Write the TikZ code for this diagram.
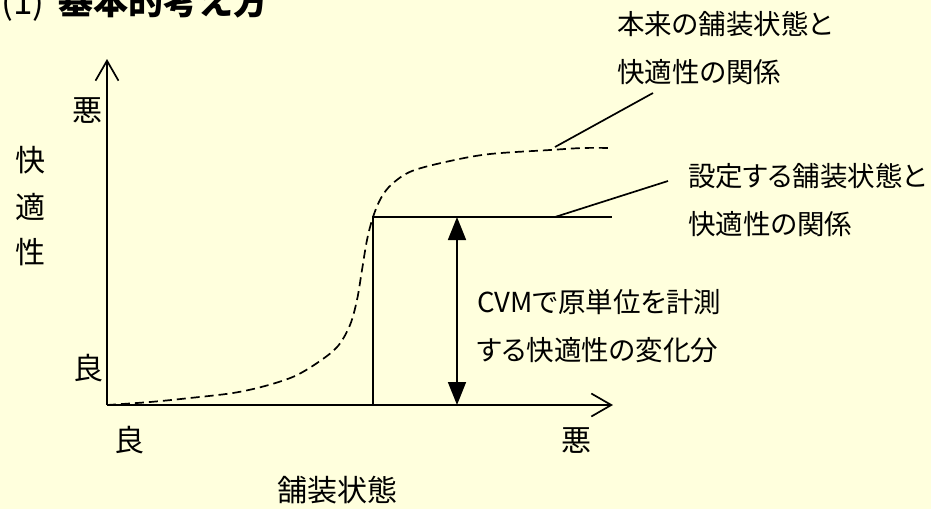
\documentclass[tikz,border=0pt]{standalone}
\usepackage{fontspec}
\setmainfont{Noto Sans CJK JP}
\newfontfamily\jpprop[RawFeature=+palt]{Noto Sans CJK JP}
\usetikzlibrary{arrows.meta}
\definecolor{bgyellow}{RGB}{255,255,221}
\begin{document}
\begin{tikzpicture}[x=1pt,y=-1pt,
  axis/.style={line width=1.7pt,-{Straight Barb[length=20pt,width=23pt,line width=1.7pt]}},
  solidline/.style={line width=1.7pt},
  dashcurve/.style={line width=1.7pt,dash pattern=on 9pt off 5pt},
  dblarrow/.style={line width=1.7pt,{Triangle[length=23pt,width=18pt]}-{Triangle[length=23pt,width=18pt]}},
  leader/.style={line width=1.7pt},
  axlab/.style={inner sep=0pt,font=\fontsize{30}{36}\selectfont},
  callout/.style={inner sep=0pt,anchor=base west,font=\jpprop\fontsize{27.5}{48}\selectfont}
]
\useasboundingbox (0,0) rectangle (931,509);
\fill[bgyellow] (0,0) rectangle (931,509);

% title
\node[anchor=base west,inner sep=0pt,font=\fontsize{35}{40}\selectfont] (title) at (1,14) {(1)\hspace{14pt}{\bfseries 基本的考え方}};

% axes
\coordinate (O) at (107,405);
\coordinate (ytip) at (107,59);
\coordinate (xtip) at (613,405);
\draw[axis] (O) -- (ytip);
\draw[axis] (O) -- (xtip);

% axis labels
\node[axlab] (ywar) at (87,111) {悪};
\node[axlab] (yyoi) at (88,368) {良};
\node[axlab] (kai) at (30,160) {快};
\node[axlab] (teki) at (30,207) {適};
\node[axlab] (sei) at (30,252) {性};
\node[axlab] (xyoi) at (129,440) {良};
\node[axlab] (xwar) at (576,441) {悪};
\node[axlab] (xname) at (337,490) {舗装状態};

% dashed original relation
\draw[dashcurve] plot[smooth,tension=0.55] coordinates {(107,405) (150,402) (190,398) (233,393) (265,386) (295,376) (320,361) (338,346) (350,325) (357,300) (362,270) (367,240) (373,217) (381,198) (392,184) (412,171) (450,161) (490,154) (550,150) (583,148) (612,148)};

% set relation (step)
\coordinate (s0) at (373,405);
\coordinate (s1) at (373,217);
\coordinate (s2) at (612,217);
\draw[solidline] (s0) -- (s1) -- (s2);

% double arrow
\coordinate (d0) at (457,217);
\coordinate (d1) at (457,405);
\draw[dblarrow] (d0) -- (d1);

% leaders
\coordinate (l1a) at (555,147);
\coordinate (l1b) at (653,93);
\draw[leader] (l1a) -- (l1b);
\coordinate (l2a) at (555,217);
\coordinate (l2b) at (668,181);
\draw[leader] (l2a) -- (l2b);

% callouts
\node[callout] (c1) at (617,34) {\begin{tabular}[t]{@{}l@{}}本来の舗装状態と\\快適性の関係\end{tabular}};
\node[callout] (c2) at (688,186) {\begin{tabular}[t]{@{}l@{}}設定する舗装状態と\\快適性の関係\end{tabular}};
\node[callout] (c3) at (477,312) {\begin{tabular}[t]{@{}l@{}}CVMで原単位を計測\\する快適性の変化分\end{tabular}};
\end{tikzpicture}
\end{document}
